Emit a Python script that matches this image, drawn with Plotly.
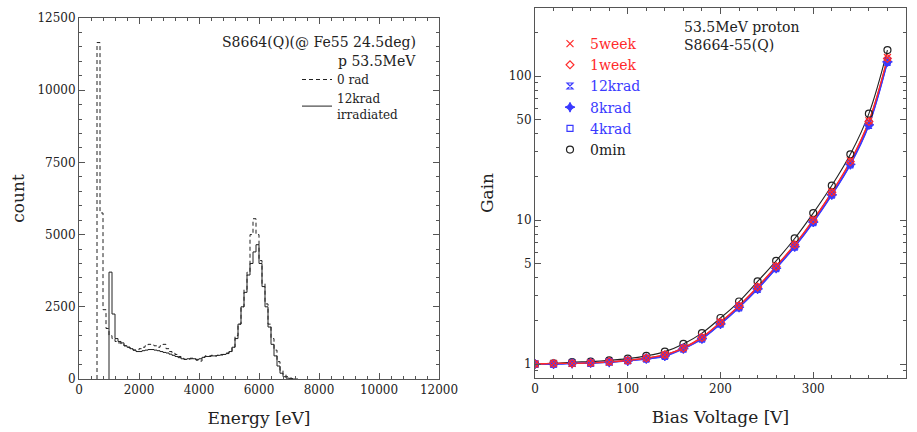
import plotly.graph_objects as go

# ---------------- Left panel data: Fe55 spectra (100 eV bins) ----------------
bin_width = 100
rad0_start = 600
rad0_counts = [11650, 5750, 2400, 1750, 1500, 1400, 1300, 1250, 1200, 1150,
               1100, 1050, 1000, 1000, 1050, 1100, 1150, 1200, 1180, 1150,
               1100, 1150, 1200, 1050, 950, 900, 850, 780, 720, 680,
               680, 700, 680, 650, 620, 750, 800, 800, 820, 800,
               820, 850, 850, 900, 950, 1100, 1500, 1900, 2500, 3100,
               3700, 5000, 5550, 5000, 4100, 3300, 2600, 1900, 1400, 1000,
               600, 300, 150, 80, 30, 10, 0]
irr_start = 1000
irr_counts = [3700, 2250, 1400, 1300, 1250, 1150, 1100, 1050, 1000, 950,
              950, 980, 1000, 1020, 1020, 1000, 980, 950, 920, 900,
              860, 820, 780, 740, 700, 680, 700, 720, 700, 680,
              700, 750, 780, 780, 800, 800, 820, 830, 850, 880,
              950, 1100, 1400, 1900, 2500, 3000, 3600, 4000, 4400, 4650,
              4000, 3200, 2500, 1800, 1200, 800, 450, 200, 80, 30, 10, 0]
energy_ticks = [0, 2000, 4000, 6000, 8000, 10000, 12000]
count_ticks = [0, 2500, 5000, 7500, 10000, 12500]

# ---------------- Right panel data: gain vs bias voltage ----------------
bias_v = [0, 20, 40, 60, 80, 100, 120, 140, 160, 180, 200, 220, 240, 260, 280,
          300, 320, 340, 360, 380]
gain_0min = [1.00, 1.01, 1.03, 1.04, 1.06, 1.09, 1.14, 1.22, 1.38, 1.64, 2.09,
             2.72, 3.75, 5.22, 7.46, 11.2, 17.4, 28.7, 55, 152]
gain_4krad = [1.00, 1.00, 1.01, 1.02, 1.04, 1.06, 1.10, 1.15, 1.30, 1.52, 1.93,
              2.52, 3.38, 4.70, 6.62, 9.8, 15.2, 24.8, 47, 128]
gain_8krad = [1.00, 1.00, 1.01, 1.02, 1.03, 1.05, 1.09, 1.14, 1.28, 1.50, 1.90,
              2.48, 3.33, 4.63, 6.55, 9.7, 15.0, 24.4, 46, 126]
gain_12krad = [1.00, 1.00, 1.01, 1.01, 1.03, 1.05, 1.08, 1.13, 1.27, 1.49, 1.89,
               2.46, 3.30, 4.60, 6.50, 9.6, 14.9, 24.2, 45.5, 125]
gain_1week = [1.00, 1.01, 1.01, 1.02, 1.04, 1.06, 1.10, 1.16, 1.29, 1.53, 1.95,
              2.54, 3.43, 4.77, 6.74, 10.0, 15.6, 25.5, 48.5, 133]
gain_5week = [1.00, 1.01, 1.01, 1.02, 1.03, 1.06, 1.10, 1.16, 1.30, 1.54, 1.96,
              2.55, 3.45, 4.80, 6.78, 10.1, 15.7, 25.8, 49, 135]
gain_ticks = [1, 5, 10, 50, 100]

RED = "#ff2a2a"
BLUE = "#3a3aff"
BLACK = "#222222"
FONT = "DejaVu Serif"


def step_xy(start, counts):
    edges = [start + i * bin_width for i in range(len(counts) + 1)]
    xs = [edges[0]] + edges
    ys = [0] + counts + [0]
    return xs, ys


fig = go.Figure()

x0, y0 = step_xy(rad0_start, rad0_counts)
fig.add_trace(go.Scatter(x=x0, y=y0, mode="lines", line_shape="hv",
                         line=dict(color=BLACK, width=1, dash="4px,3px"),
                         name="0 rad", legend="legend", xaxis="x", yaxis="y"))
x1, y1 = step_xy(irr_start, irr_counts)
fig.add_trace(go.Scatter(x=x1, y=y1, mode="lines", line_shape="hv",
                         line=dict(color=BLACK, width=1),
                         name="12krad<br>irradiated", legend="legend", xaxis="x", yaxis="y"))

series = [
    ("0min", gain_0min, BLACK, "circle-open", 7, 6),
    ("4krad", gain_4krad, BLUE, "square-open", 6, 5),
    ("8krad", gain_8krad, BLUE, "star-diamond", 7, 4),
    ("12krad", gain_12krad, BLUE, "hourglass-open", 6, 3),
    ("1week", gain_1week, RED, "diamond-open", 6, 2),
    ("5week", gain_5week, RED, "x-thin-open", 7, 1),
]
for name, g, col, sym, size, rank in series:
    fig.add_trace(go.Scatter(
        x=bias_v, y=g, mode="lines", line_shape="spline",
        line=dict(color=col, width=1.1), showlegend=False, hoverinfo="skip",
        xaxis="x2", yaxis="y2"))
for name, g, col, sym, size, rank in series:
    fig.add_trace(go.Scatter(
        x=bias_v, y=g, mode="markers",
        marker=dict(symbol=sym, size=size, color=col, line=dict(color=col, width=1.2)),
        name=f"<span style='color:{col}'>{name}</span>",
        legend="legend2", legendrank=rank, xaxis="x2", yaxis="y2"))

axis_common = dict(showline=True, linecolor="#555", linewidth=1, mirror="ticks",
                   ticks="inside", ticklen=6, tickcolor="#555", showgrid=False,
                   zeroline=False, automargin=False,
                   tickfont=dict(family=FONT, size=12, color=BLACK),
                   title_font=dict(family=FONT, size=17, color=BLACK))

fig.update_layout(
    width=917, height=432, margin=dict(l=0, r=0, t=0, b=0),
    paper_bgcolor="white", plot_bgcolor="white", template="none",
    font=dict(family=FONT, color=BLACK),
    xaxis=dict(domain=[79 / 917, 439 / 917], range=[0, 12000],
               tickvals=energy_ticks, ticktext=[str(v) for v in energy_ticks],
               minor=dict(ticks="inside", ticklen=3, dtick=400, tick0=0, tickcolor="#555"),
               title=dict(text="Energy [eV]", standoff=15), anchor="y", **axis_common),
    yaxis=dict(domain=[53 / 432, 414 / 432], range=[0, 12500],
               tickvals=count_ticks, ticktext=[str(v) for v in count_ticks],
               minor=dict(ticks="inside", ticklen=3, dtick=500, tick0=0, tickcolor="#555"),
               title=dict(text="count", standoff=8), anchor="x", **axis_common),
    xaxis2=dict(domain=[535 / 917, 906 / 917], range=[0, 400],
                tickvals=list(range(0, 401, 100)),
                minor=dict(ticks="inside", ticklen=3, dtick=20, tick0=0, tickcolor="#555"),
                title=dict(text="Bias Voltage [V]", standoff=15), anchor="y2", **axis_common),
    yaxis2=dict(domain=[54 / 432, 424 / 432], type="log", range=[-0.097, 2.4745],
                tickvals=gain_ticks, ticktext=[str(v) for v in gain_ticks],
                minor=dict(ticks="inside", ticklen=3, tickcolor="#555",
                           tickvals=[0.9, 2, 3, 4, 6, 7, 8, 9, 20, 30, 40, 60, 70, 80, 90, 200]),
                title=dict(text="Gain", standoff=10), anchor="x2", **axis_common),
    legend=dict(x=297 / 917, y=1 - 65 / 432, xanchor="left", yanchor="top",
                bgcolor="rgba(0,0,0,0)", font=dict(family=FONT, size=12, color=BLACK),
                tracegroupgap=0, itemwidth=30),
    legend2=dict(x=550 / 917, y=1 - 28 / 432, xanchor="left", yanchor="top",
                 bgcolor="rgba(0,0,0,0)", font=dict(family=FONT, size=14, color=BLACK),
                 tracegroupgap=0, itemwidth=30),
    showlegend=True,
)

fig.add_annotation(text="S8664(Q)(@ Fe55 24.5deg)", xref="paper", yref="paper",
                   x=418 / 917, y=1 - 42 / 432, xanchor="right", yanchor="middle",
                   showarrow=False, font=dict(family=FONT, size=14, color=BLACK))
fig.add_annotation(text="p 53.5MeV", xref="paper", yref="paper",
                   x=418 / 917, y=1 - 61 / 432, xanchor="right", yanchor="middle",
                   showarrow=False, font=dict(family=FONT, size=14, color=BLACK))
fig.add_annotation(text="53.5MeV proton<br>S8664-55(Q)", xref="paper", yref="paper",
                   x=682 / 917, y=1 - 17 / 432, xanchor="left", yanchor="top", align="left",
                   showarrow=False, font=dict(family=FONT, size=14, color=BLACK))

fig.write_html("out.html")
